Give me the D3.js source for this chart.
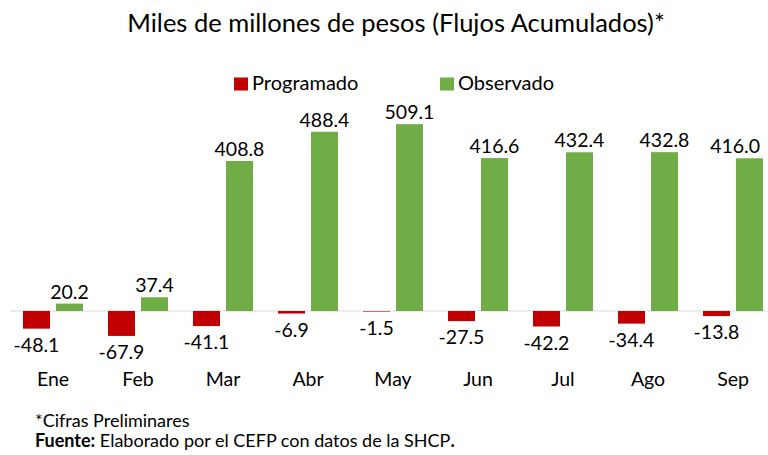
<!DOCTYPE html>
<html>
<head>
<meta charset="utf-8">
<script src="https://cdn.jsdelivr.net/npm/d3@7"></script>
<style>
  body { margin: 0; background: #fff; }
  svg { display: block; font-family: Lato, "Open Sans", sans-serif; }
</style>
</head>
<body>
<div id="chart"></div>
<script>
(function(){
    'use strict';

    var meses = ['Ene', 'Feb', 'Mar', 'Abr', 'May', 'Jun', 'Jul', 'Ago', 'Sep'];
    var series = ['Programado', 'Observado'];
    var programado = [-48.1, -67.9, -41.1, -6.9, -1.5, -27.5, -42.2, -34.4, -13.8];
    var observado = [20.2, 37.4, 408.8, 488.4, 509.1, 416.6, 432.4, 432.8, 416.0];
    var colores = ['#C00000', '#70AD47'];

    var width = 768, height = 455;
    var fontEtiqueta = '19.5px';

    var svg = d3.select('#chart').append('svg')
        .attr('width', width).attr('height', height);

    // titulo
    svg.append('text')
        .attr('x', 396).attr('y', 32)
        .attr('text-anchor', 'middle')
        .style('font-size', '25.5px').style('fill', '#000')
        .text('Miles de millones de pesos (Flujos Acumulados)*');

    // escalas
    var x0 = d3.scaleBand().domain(meses).range([10.5, 775.5]);
    var x1 = d3.scaleBand().domain(series).range([0, x0.bandwidth()])
        .paddingInner(0.182).paddingOuter(0.379);
    var y = d3.scaleLinear().domain([-80, 520]).range([340.36, 120.16]);

    var datos = meses.map(function(m, i) {
        return {mes: m, valores: [
            {serie: series[0], v: programado[i]},
            {serie: series[1], v: observado[i]}
        ]};
    });

    // linea del cero
    svg.append('line')
        .attr('x1', x0.range()[0]).attr('x2', x0.range()[1])
        .attr('y1', y(0)).attr('y2', y(0))
        .style('stroke', '#d9d9d9').style('stroke-width', 1.2);

    var grupos = svg.selectAll('.mes').data(datos).enter().append('g')
        .attr('class', 'mes')
        .attr('transform', function(d) { return 'translate(' + x0(d.mes) + ',0)'; });

    var barras = grupos.selectAll('g.barra').data(function(d) { return d.valores; })
        .enter().append('g').attr('class', 'barra');

    barras.append('rect')
        .attr('x', function(d) { return x1(d.serie); })
        .attr('width', x1.bandwidth())
        .attr('y', function(d) { return y(Math.max(0, d.v)); })
        .attr('height', function(d) { return Math.abs(y(d.v) - y(0)); })
        .style('fill', function(d) { return colores[series.indexOf(d.serie)]; });

    barras.append('text')
        .attr('y', function(d) { return d.v >= 0 ? y(d.v) - 5 : y(d.v) + 9; })
        .attr('dy', function(d) { return d.v >= 0 ? 0 : '0.72em'; })
        .attr('text-anchor', 'middle')
        .style('font-size', fontEtiqueta).style('fill', '#000')
        .text(function(d) { return d.v.toFixed(1); })
        .attr('x', function(d) {
            // que la etiqueta no se salga del borde derecho
            var cx = x1(d.serie) + x1.bandwidth() / 2;
            var grupoX = x0(d3.select(this.parentNode.parentNode).datum().mes);
            var w = this.getComputedTextLength();
            var limite = width - 8 - w / 2 - grupoX;
            return Math.min(cx, limite);
        });

    // eje x (solo etiquetas)
    var ejeX = svg.append('g').attr('transform', 'translate(0,' + 386 + ')')
        .call(d3.axisBottom(x0).tickSize(0).tickPadding(0));
    ejeX.select('.domain').remove();
    ejeX.selectAll('text')
        .attr('dy', 0)
        .style('font-family', 'Lato, sans-serif')
        .style('font-size', fontEtiqueta).style('fill', '#000');

    // leyenda
    var leyendaX = [234, 440];
    var leyenda = svg.selectAll('.leyenda').data(series).enter().append('g')
        .attr('class', 'leyenda')
        .attr('transform', function(d, i) { return 'translate(' + leyendaX[i] + ',77.5)'; });
    leyenda.append('rect').attr('width', 14).attr('height', 13)
        .style('fill', function(d, i) { return colores[i]; });
    leyenda.append('text').attr('x', 18).attr('y', 12.5)
        .style('font-size', '20px').style('fill', '#000')
        .text(function(d) { return d; });

    // notas
    svg.append('text')
        .attr('x', 35).attr('y', 427)
        .style('font-size', '18px').style('fill', '#000')
        .text('*Cifras Preliminares');

    var fuente = svg.append('text')
        .attr('x', 35).attr('y', 447)
        .style('font-size', '18px').style('fill', '#000');
    fuente.append('tspan').style('font-weight', 'bold').text('Fuente:');
    fuente.append('tspan').text(' Elaborado por el CEFP con datos de la SHCP');
    fuente.append('tspan').style('font-weight', 'bold').text('.');
})();
</script>
</body>
</html>
